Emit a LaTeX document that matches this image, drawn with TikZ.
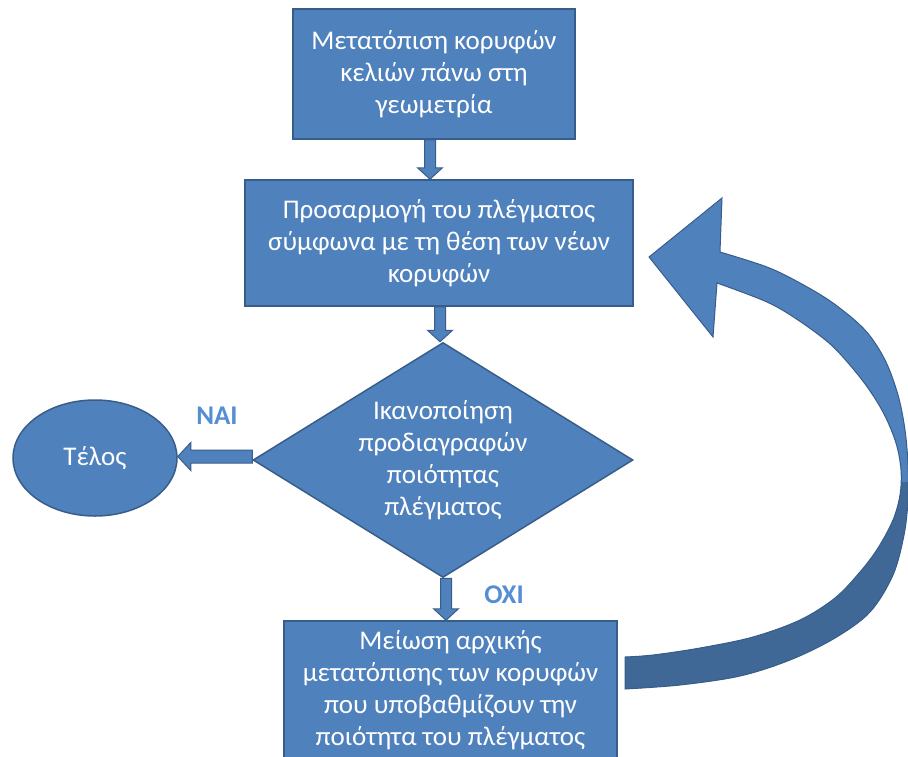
\documentclass[tikz,border=0pt]{standalone}
\usepackage{fontspec}
\setmainfont{Carlito}
\usetikzlibrary{shapes.geometric,calc}
\definecolor{boxfill}{HTML}{4F81BD}
\definecolor{boxline}{HTML}{385D8A}
\definecolor{lblcol}{HTML}{558ED5}
\definecolor{ribdark}{HTML}{3F6896}
\newcommand\vblock[2]{%
  \draw[blockarrow] let \p1=(#1), \p2=(#2) in
  (\x2-5.5pt,\y1) -- (\x2-5.5pt,\y2+11.5pt) -- (\x2-12.5pt,\y2+11.5pt) -- (\x2,\y2)
  -- (\x2+12.5pt,\y2+11.5pt) -- (\x2+5.5pt,\y2+11.5pt) -- (\x2+5.5pt,\y1) -- cycle;}
\newcommand\ribbonpath{%
  plot[smooth, tension=0.55] coordinates {(720,252) (767,267) (800,283) (833,303) (865,330) (885,360) (898,395) (905,430) (908,465) (908,500) (904,535) (893,575) (870,612) (835,638) (790,660) (740,676) (680,685) (625,689)}
  -- plot[smooth, tension=0.55] coordinates {(625,657) (653,655) (700,648) (753,637) (800,620) (835,598) (860,572) (878,548) (893,520) (900,495) (901,470) (896,443) (884,414) (868,388) (849,364) (829,343) (798,320) (767,302) (717,283)}
  -- (713,337) -- (649,257) -- (722,198) -- cycle}
\begin{document}
\begin{tikzpicture}[x=1pt,y=-1pt,
  box/.style={draw=boxline, fill=boxfill, line width=1.5pt, text=white, align=center,
    font=\fontsize{27}{32}\selectfont, inner sep=0pt},
  txt/.style={text=white, align=center, font=\fontsize{27}{32}\selectfont, inner sep=0pt},
  blockarrow/.style={draw=boxline, fill=boxfill, line width=1pt, line join=miter},
  lbl/.style={text=lblcol, font=\fontsize{27}{32}\selectfont\bfseries, inner sep=0pt}]
\useasboundingbox (0,0) rectangle (908,756);

\node[box, minimum width=282pt, minimum height=130pt] (b1) at (434,74)
  {Μετατόπιση κορυφών\\κελιών πάνω στη\\γεωμετρία};
\node[box, minimum width=388pt, minimum height=126pt] (b2) at (439,243)
  {Προσαρμογή του πλέγματος\\σύμφωνα με τη θέση των νέων\\κορυφών};
\node[box, diamond, minimum width=380pt, minimum height=235pt] (d) at (443,460) {};
\node[txt] (dt) at (d.center) {Ικανοποίηση\\προδιαγραφών\\ποιότητας\\πλέγματος};
\node[box, ellipse, minimum width=164pt, minimum height=116pt] (endn) at (95,458) {Τέλος};
\node[box, minimum width=333pt, minimum height=139pt] (b3) at (450.5,690.5)
  {Μείωση αρχικής\\μετατόπισης των κορυφών\\που υποβαθμίζουν την\\ποιότητα του πλέγματος};

\vblock{b1.south}{$(b2.north)+(-9,0)$}
\vblock{b2.south}{$(d.north)+(-3,0)$}
\vblock{d.south}{$(b3.north)+(-4.5,0)$}
\draw[blockarrow] let \p1=(d.west), \p2=(endn.east) in
  (\x1,\y2+8pt) -- (\x2+13pt,\y2+8pt) -- (\x2+13pt,\y2+15.5pt) -- (\x2,\y2+1.5pt)
  -- (\x2+13pt,\y2-12.5pt) -- (\x2+13pt,\y2-5pt) -- (\x1,\y2-5pt) -- cycle;

\node[lbl] (nai) at (217,416) {NAI};
\node[lbl] (oxi) at (504,595) {OXI};

\fill[boxfill] \ribbonpath;
\begin{scope}
  \clip (600,482) rectangle (915,760);
  \fill[ribdark] \ribbonpath;
\end{scope}
\draw[boxline, line width=1pt, line join=miter] \ribbonpath;
\end{tikzpicture}
\end{document}
